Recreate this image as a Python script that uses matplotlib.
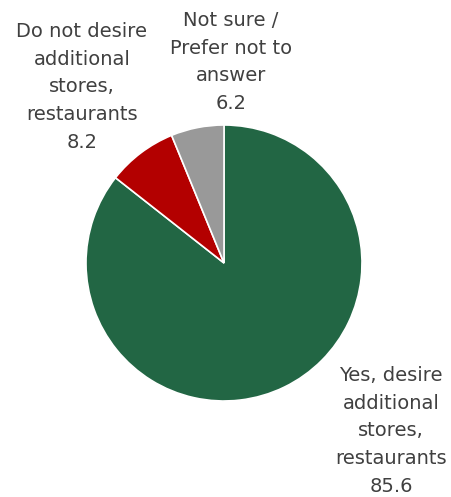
import matplotlib
matplotlib.use('Agg')
import matplotlib.pyplot as plt

plt.rcParams['font.family'] = 'DejaVu Sans'

# survey answers, share of respondents (%)
labels = ['Yes, desire\nadditional\nstores,\nrestaurants',
          'Do not desire\nadditional\nstores,\nrestaurants',
          'Not sure /\nPrefer not to\nanswer']
values = [85.6, 8.2, 6.2]
colors = ['#226644', '#B30000', '#999999']

W, H = 451, 497
fig = plt.figure(figsize=(W / 100, H / 100), dpi=100)
ax = fig.add_axes([0, 0, 1, 1])

cx, cy, r = 224, H - 263, 138
ax.pie(values, colors=colors, startangle=90, counterclock=False,
       center=(cx, cy), radius=r, frame=True,
       wedgeprops=dict(edgecolor='white', linewidth=1.2))
ax.set_xlim(0, W)
ax.set_ylim(0, H)
ax.set_aspect('equal')
ax.axis('off')

# label blocks placed outside the slices
label_pos = [(391, H - 431), (82, H - 87), (231, H - 62)]
for lab, v, (x, y) in zip(labels, values, label_pos):
    ax.text(x, y, f'{lab}\n{v:.1f}', ha='center', va='center',
            fontsize=14, color='#404040', linespacing=1.58)

fig.savefig('out.png', dpi=100)
